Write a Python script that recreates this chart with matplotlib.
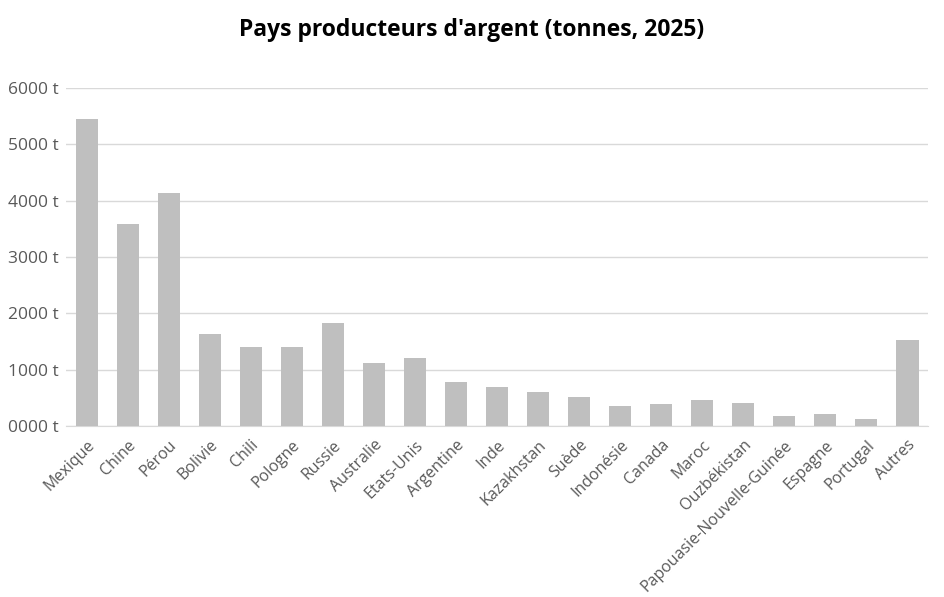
import matplotlib
matplotlib.use("Agg")
import matplotlib.pyplot as plt
from matplotlib.ticker import FuncFormatter

# Silver production by country, tonnes (2025)
countries = ["Mexique", "Chine", "Pérou", "Bolivie", "Chili", "Pologne", "Russie",
             "Australie", "Etats-Unis", "Argentine", "Inde", "Kazakhstan", "Suède",
             "Indonésie", "Canada", "Maroc", "Ouzbékistan",
             "Papouasie-Nouvelle-Guinée", "Espagne", "Portugal", "Autres"]
tonnes = [5450, 3580, 4130, 1630, 1410, 1410, 1820, 1110, 1200, 775, 700, 610,
          520, 360, 385, 455, 415, 185, 205, 130, 1530]
y_ticks = [0, 1000, 2000, 3000, 4000, 5000, 6000]

plt.rcParams['font.family'] = ['Open Sans', 'DejaVu Sans']

fig = plt.figure(figsize=(9.44, 5.97), dpi=100)
ax = fig.add_axes([0.070, 0.2864, 0.913, 0.5662])

x = range(len(countries))
ax.bar(x, tonnes, width=0.54, color="#bfbfbf", zorder=3)

ax.set_xlim(-0.5, len(countries) - 0.5)
ax.set_ylim(0, 6000)
ax.set_yticks(y_ticks)
ax.yaxis.set_major_formatter(FuncFormatter(lambda v, p: f"{int(v):04d} t"))
ax.grid(axis="y", color="#d9d9d9", linewidth=1, zorder=0)

for s in ["top", "right", "left"]:
    ax.spines[s].set_visible(False)
ax.spines["bottom"].set_color("#d9d9d9")
ax.tick_params(axis="both", length=0, colors="#595959")
ax.tick_params(axis="y", pad=5, labelsize=12.5)

ax.set_xticks(list(x))
ax.set_xticklabels(countries, rotation=45, ha="right", va="top",
                   rotation_mode="anchor")
ax.tick_params(axis="x", pad=8, labelsize=11.5)

fig.suptitle("Pays producteurs d'argent (tonnes, 2025)", fontsize=16.5,
             fontweight="bold", y=0.97, x=0.5)

fig.savefig("out.png", dpi=100)
